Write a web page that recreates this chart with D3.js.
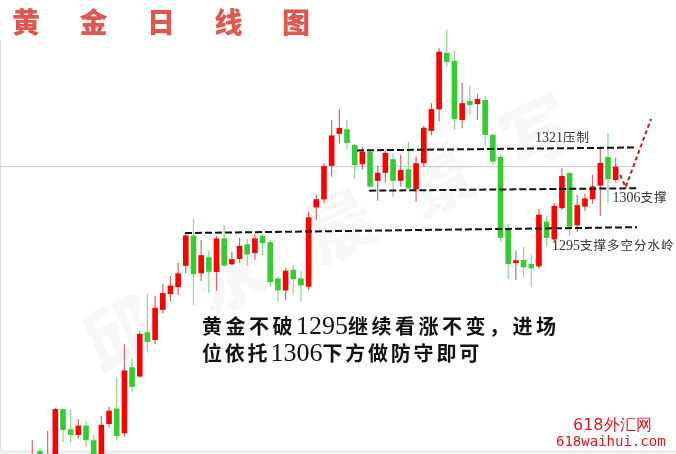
<!DOCTYPE html>
<html><head><meta charset="utf-8">
<script src="https://cdn.jsdelivr.net/npm/d3@7"></script>
<style>html,body{margin:0;padding:0;background:#fff;overflow:hidden}</style>
</head><body><svg id="c" width="676" height="454"></svg>
<script>
// ---- data (daily candles) ----
const days = d3.range(0, 77);
const open  = [1196.6,1207.5,1196.6,1203.4,1223.2,1215.6,1213.5,1217.0,1211.5,1204.9,1217.6,1223.4,1214.1,1238.9,1235.4,1252.0,1249.1,1260.4,1266.3,1268.9,1276.9,1288.2,1274.1,1280.1,1274.6,1287.2,1277.5,1279.5,1285.0,1281.7,1288.2,1285.8,1272.2,1267.7,1275.4,1272.2,1269.1,1298.8,1301.8,1314.4,1326.4,1328.1,1322.2,1315.0,1319.7,1308.8,1311.8,1316.9,1308.8,1313.1,1305.6,1315.4,1327.5,1335.6,1356.8,1353.8,1331.6,1338.8,1337.6,1339.1,1326.0,1317.7,1290.7,1277.9,1279.1,1277.6,1276.7,1293.5,1286.8,1298.5,1311.7,1292.1,1299.1,1301.9,1307.0,1317.7,1309.1];
const high  = [1211.6,1208.6,1215.0,1223.6,1223.4,1222.9,1219.4,1218.7,1213.5,1220.6,1224.1,1235.2,1247.7,1242.2,1252.5,1266.4,1265.7,1270.1,1273.1,1278.0,1288.9,1294.7,1286.6,1282.5,1288.1,1292.1,1282.2,1287.4,1287.0,1288.9,1288.7,1286.6,1273.1,1276.0,1277.2,1275.0,1297.3,1303.5,1315.4,1331.6,1335.6,1331.6,1322.7,1321.5,1320.4,1314.5,1320.4,1319.0,1318.7,1323.5,1317.8,1329.4,1337.9,1358.5,1365.4,1357.7,1345.6,1344.4,1341.4,1340.6,1326.4,1318.5,1292.6,1282.6,1284.0,1281.0,1298.3,1295.8,1300.4,1313.5,1312.2,1303.5,1303.9,1311.0,1321.6,1326.6,1317.4];
const low   = [1192.9,1198.5,1194.7,1201.9,1210.9,1210.5,1212.2,1209.1,1202.2,1204.1,1216.4,1211.6,1212.9,1229.5,1234.9,1244.4,1247.6,1259.0,1263.5,1266.0,1274.1,1262.3,1271.2,1266.4,1267.5,1276.6,1277.2,1278.0,1277.0,1279.1,1280.8,1269.1,1263.5,1264.1,1266.2,1263.5,1267.9,1294.1,1300.4,1310.3,1322.8,1320.7,1309.7,1312.9,1306.4,1301.3,1308.2,1302.8,1306.6,1305.8,1301.0,1314.1,1326.0,1331.0,1351.5,1328.0,1328.5,1333.5,1331.6,1322.0,1314.7,1285.9,1272.0,1271.6,1272.7,1269.0,1276.1,1284.4,1285.4,1297.9,1288.1,1289.6,1297.5,1300.1,1295.5,1300.5,1308.2];
const close = [1205.6,1200.4,1204.9,1223.2,1215.4,1213.5,1217.0,1211.6,1204.1,1217.3,1222.6,1213.1,1237.7,1231.5,1251.4,1248.4,1261.2,1266.7,1269.5,1274.1,1288.3,1273.8,1280.9,1274.7,1287.2,1277.0,1279.4,1284.4,1281.2,1287.2,1285.4,1270.8,1267.7,1275.1,1271.9,1269.6,1295.1,1301.9,1314.4,1325.8,1328.6,1323.0,1314.7,1319.7,1306.6,1311.8,1319.3,1308.8,1312.9,1306.0,1315.4,1328.7,1335.7,1357.2,1353.4,1331.9,1337.9,1337.2,1339.5,1326.0,1316.0,1287.4,1277.6,1279.0,1276.4,1276.0,1296.1,1287.4,1299.4,1310.6,1291.6,1299.7,1302.2,1306.7,1315.5,1309.4,1314.1];

// support / resistance trend lines: [start day, start price, end day, end price]
const levelLabels = ["1321压制", "1306支撑", "1295支撑多空分水岭"];
const levelStartDay = [42.3, 43.9, 19.9];
const levelStartPrice = [1320.2, 1305.1, 1289.2];
const levelEndDay = [78.8, 78.8, 78.8];
const levelEndPrice = [1321.3, 1306.0, 1291.4];
const lastPrice = 1314.1;
// forecast path (day, price)
const forecastDays = [76.6, 77.3, 80.6];
const forecastPrices = [1311.0, 1306.4, 1332.0];

const title = "黄金日线图";
const noteLines = ["黄金不破1295继续看涨不变，进场", "位依托1306下方做防守即可"];
const sourceLines = ["618外汇网", "618waihui.com"];

// ---- drawing ----
const W = 676, H = 454;
const svg = d3.select("#c");
const x = d3.scaleLinear().domain([-0.5, 76.5]).range([28.46, 619.5]);
const y = d3.scaleLinear().domain([1206.35, 1376.6]).range([454, 0]);
const bw = 5.6;

// watermark
const wm = svg.append("g").attr("fill", "#000").attr("opacity", 0.035)
  .attr("font-family", "Noto Sans CJK SC").attr("font-weight", 900).attr("font-size", 70);
[["邱",118,330],["永",228,272],["晨",338,222],["景",438,176],["写",535,128]].forEach(([t,cx,cy]) => {
  wm.append("text").attr("transform", `translate(${cx},${cy}) rotate(-25)`)
    .attr("text-anchor", "middle").attr("dominant-baseline", "central").text(t);
});

// border
svg.append("line").attr("x1", 0.5).attr("x2", 0.5).attr("y1", 40).attr("y2", H).attr("stroke", "#ddd");
svg.append("rect").attr("x", 0).attr("y", 450).attr("width", W).attr("height", 4).attr("fill", "#eee");

// last price grey line
svg.append("line").attr("x1", 0).attr("x2", x(78.8)).attr("y1", y(lastPrice)).attr("y2", y(lastPrice))
  .attr("stroke", "#c8c8c8").attr("stroke-width", 1);

// candles
const g = svg.append("g");
const up = i => close[i] >= open[i];
g.selectAll("line.w").data(days).join("line").attr("class", "w")
  .attr("x1", i => x(i)).attr("x2", i => x(i))
  .attr("y1", i => y(high[i])).attr("y2", i => y(low[i]))
  .attr("stroke", i => up(i) ? "#d06a6a" : "#86dc86").attr("stroke-width", 1.2);
g.selectAll("rect.b").data(days).join("rect").attr("class", "b")
  .attr("x", i => x(i) - bw / 2).attr("width", bw)
  .attr("y", i => y(Math.max(open[i], close[i])))
  .attr("height", i => Math.max(1.5, Math.abs(y(open[i]) - y(close[i]))))
  .attr("fill", i => up(i) ? "#ff0000" : "#33cc33");

// level lines
levelLabels.forEach((lab, k) => {
  svg.append("line")
    .attr("x1", x(levelStartDay[k])).attr("y1", y(levelStartPrice[k]))
    .attr("x2", x(levelEndDay[k])).attr("y2", y(levelEndPrice[k]))
    .attr("stroke", "#111").attr("stroke-width", 2).attr("stroke-dasharray", "7,3");
});
const labelAnchor = [[65.5, 1323.4], [75.6, 1301.0], [67.7, 1282.8]];
levelLabels.forEach((lab, k) => {
  const t = svg.append("text").attr("x", x(labelAnchor[k][0])).attr("y", y(labelAnchor[k][1]))
    .attr("font-size", 13).attr("fill", "#333");
  lab.split(/(\d+)/).filter(s => s).forEach(s => {
    t.append("tspan").text(s)
      .attr("font-family", /\d/.test(s) ? "Liberation Serif" : "Noto Sans CJK SC")
      .attr("font-size", /\d/.test(s) ? 14 : 12.5)
      .attr("letter-spacing", /\d/.test(s) ? 0 : 1);
  });
});

// forecast dashed red path
svg.append("path")
  .attr("d", d3.line().x(d => x(d[0])).y(d => y(d[1]))(forecastDays.map((d, i) => [d, forecastPrices[i]])))
  .attr("fill", "none").attr("stroke", "#cc1a1a").attr("stroke-width", 2).attr("stroke-dasharray", "4,3");

// title
svg.append("text").attr("x", 12).attr("y", 33).text(title)
  .attr("font-family", "Noto Sans CJK SC").attr("font-weight", 900).attr("font-size", 28)
  .attr("letter-spacing", 39.5).attr("fill", "#e0574f");

// note text
const noteSpacing = [3.5, 2.8];
noteLines.forEach((line, k) => {
  const t = svg.append("text").attr("x", 202).attr("y", k === 0 ? 334 : 361).attr("fill", "#111");
  line.split(/(\d+)/).filter(s => s).forEach(s => {
    const dig = /\d/.test(s);
    t.append("tspan").text(s)
      .attr("font-family", dig ? "Liberation Serif" : "Noto Sans CJK SC")
      .attr("font-weight", dig ? 400 : 700)
      .attr("font-size", dig ? 26 : 20)
      .attr("letter-spacing", dig ? 0 : noteSpacing[k]);
  });
});

// source
svg.append("text").attr("x", 573).attr("y", 430).text(sourceLines[0])
  .attr("font-family", "DejaVu Sans").attr("font-size", 16).attr("fill", "#e8141c");
svg.append("text").attr("x", 556).attr("y", 446).text(sourceLines[1])
  .attr("font-family", "DejaVu Sans Mono").attr("font-size", 14).attr("fill", "#e8141c");
</script></body></html>
